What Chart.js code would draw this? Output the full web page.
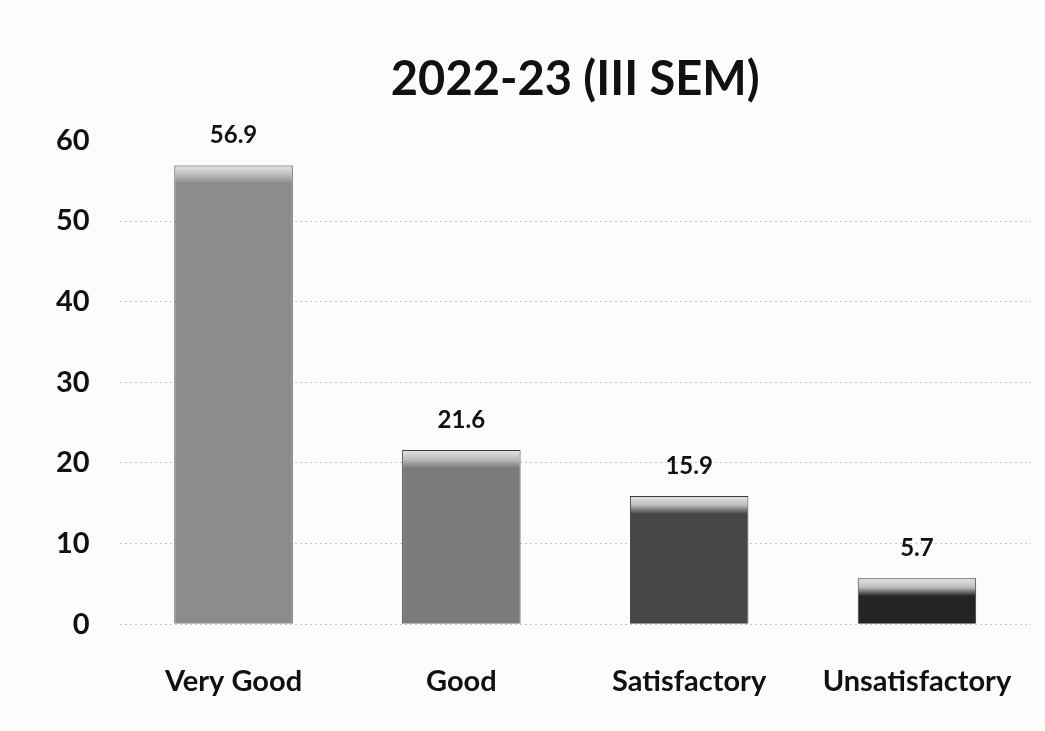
<!DOCTYPE html>
<html>
<head>
<meta charset="utf-8">
<script src="https://cdn.jsdelivr.net/npm/chart.js@4/dist/chart.umd.min.js"></script>
<style>
  html, body { margin: 0; padding: 0; background: #fcfcfc; }
  #wrap { width: 1045px; height: 731px; }
</style>
</head>
<body>
<div id="wrap"><canvas id="chart"></canvas></div>
<script>
// values
const categories = ['Very Good', 'Good', 'Satisfactory', 'Unsatisfactory'];
const percentages = [56.9, 21.6, 15.9, 5.7];
const barColors = ['#8c8c8c', '#7b7b7b', '#464646', '#242424'];
const titleText = '2022-23 (III SEM)';

const FONT = 'Lato, "Open Sans", sans-serif';

// light bevel at the top of each bar, like the office 3d style
function bevelFill(context) {
  const chart = context.chart;
  const base = barColors[context.dataIndex];
  if (!chart.chartArea || context.parsed === undefined) return base;
  const y = chart.scales.y;
  const top = y.getPixelForValue(percentages[context.dataIndex]);
  const g = chart.ctx.createLinearGradient(0, top, 0, top + 18);
  g.addColorStop(0, '#e6e6e6');
  g.addColorStop(0.5, '#bdbdbd');
  g.addColorStop(1, base);
  return g;
}

const valueLabels = {
  id: 'valueLabels',
  afterDatasetsDraw(chart) {
    const ctx = chart.ctx;
    const meta = chart.getDatasetMeta(0);
    ctx.save();
    ctx.font = 'bold 24px ' + FONT;
    ctx.fillStyle = '#111';
    ctx.textAlign = 'center';
    ctx.textBaseline = 'middle';
    meta.data.forEach((bar, i) => {
      ctx.fillText(percentages[i].toFixed(1), bar.x, bar.y - 30);
    });
    ctx.restore();
  }
};

new Chart(document.getElementById('chart'), {
  type: 'bar',
  data: {
    labels: categories,
    datasets: [{
      data: percentages,
      backgroundColor: bevelFill,
      borderColor: '#3a3a3a',
      borderWidth: 1,
      barPercentage: 0.52,
      categoryPercentage: 1
    }]
  },
  options: {
    responsive: true,
    maintainAspectRatio: false,
    animation: false,
    layout: { padding: { top: 32, left: 26, right: 0, bottom: 0 } },
    plugins: {
      legend: { display: false },
      tooltip: { enabled: false },
      title: {
        display: true,
        fullSize: false,
        text: titleText,
        color: '#111',
        font: { family: FONT, size: 47, weight: 'bold' },
        padding: { top: 20, bottom: 32 }
      }
    },
    scales: {
      x: {
        grid: { display: false },
        border: { display: false },
        ticks: {
          color: '#111',
          padding: 32,
          font: { family: FONT, size: 29, weight: 'bold' }
        }
      },
      y: {
        min: 0,
        max: 60,
        ticks: {
          stepSize: 10,
          color: '#111',
          padding: 30,
          font: { family: FONT, size: 29, weight: 'bold' }
        },
        border: { display: false, dash: [2, 3] },
        grid: {
          drawTicks: false,
          color: ctx => ctx.tick && ctx.tick.value === 60 ? 'rgba(0,0,0,0)' : '#c8c8c8',
          lineWidth: 1
        }
      }
    }
  },
  plugins: [valueLabels]
});
</script>
</body>
</html>
